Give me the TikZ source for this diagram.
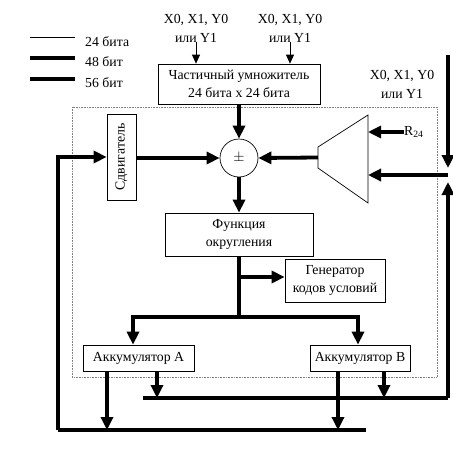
\documentclass[tikz,border=0pt]{standalone}
\usepackage{fontspec}
\setmainfont{Liberation Serif}
\usetikzlibrary{arrows.meta,calc}
\tikzset{
  x=1pt,y=-1pt,
  box/.style={draw,line width=0.7pt,inner sep=0pt,align=center,font=\fontsize{13.8}{17.5}\selectfont},
  lbl/.style={inner sep=0pt,align=center,font=\fontsize{13.8}{19}\selectfont},
  thin/.style={line width=0.7pt},
  med/.style={line width=3.1pt},
  thick/.style={line width=3.8pt},
  tarr/.style={thin,-{Triangle[length=9pt,width=8pt]}},
  barr/.style={-{Triangle[length=13pt,width=12pt]}},
}
\begin{document}
\begin{tikzpicture}
\useasboundingbox (0,0) rectangle (453,459);
% legend
\coordinate (l1a) at (30,37); \coordinate (l1b) at (75,37);
\coordinate (l2a) at (30,58); \coordinate (l2b) at (75,58);
\coordinate (l3a) at (30,79); \coordinate (l3b) at (75,79);
\draw[thin] (l1a) -- (l1b);
\draw[med] (l2a) -- (l2b);
\draw[thick] (l3a) -- (l3b);
\node[lbl,anchor=west] (t24) at (85,42) {24 бита};
\node[lbl,anchor=west] (t48) at (85,62) {48 бит};
\node[lbl,anchor=west] (t56) at (85,83) {56 бит};
% inputs
\node[lbl] (in1) at (196,28) {X0, X1, Y0\\или Y1};
\node[lbl] (in2) at (290,28) {X0, X1, Y0\\или Y1};
\node[lbl] (in3) at (402,84) {X0, X1, Y0\\или Y1};
% inner dotted frame
\draw[densely dotted,line width=0.6pt,gray] (72,107) rectangle (437,377);
% boxes
\node[box,minimum width=162pt,minimum height=40pt] (mult) at (239,84) {Частичный умножитель\\24 бита x 24 бита};
\node[box,minimum width=29pt,minimum height=86pt] (shift) at (121.5,157) {};
\node[lbl,rotate=90] (shiftt) at (shift.center) {Сдвигатель};
\node[draw,thin,circle,minimum size=38pt,inner sep=0pt,font=\fontsize{13.8}{17}\selectfont] (sum) at (239,158) {$\pm$};
\node[box,minimum width=148pt,minimum height=43pt] (func) at (239,234.5) {Функция\\округления};
\node[box,minimum width=100pt,minimum height=43pt] (gen) at (335,280.5) {Генератор\\кодов условий};
\node[box,minimum width=111pt,minimum height=26pt] (accA) at (138.5,358) {Аккумулятор А};
\node[box,minimum width=100pt,minimum height=26pt] (accB) at (360,358) {Аккумулятор В};
% trapezoid
\coordinate (tl1) at (318,147); \coordinate (tl2) at (318,168);
\coordinate (tr1) at (368,115); \coordinate (tr2) at (368,203);
\draw[thin] (tl1) -- (tr1) -- (tr2) -- (tl2) -- cycle;
\coordinate (trapL) at (318,157.5);
\coordinate (trapR1) at (368,132);
\coordinate (trapR2) at (368,175);
\node[lbl,anchor=west] (r24) at (404,132) {R\textsubscript{24}};
% input arrows
\draw[tarr] (in1.south) -- (in1.south |- mult.north);
\draw[tarr] (in2.south) -- (in2.south |- mult.north);
% right input
\coordinate (rtop) at (448,55);
\coordinate (rj) at (448,175);
\coordinate (rjt) at (448,168);
\coordinate (rjb) at (448,182);
\draw[thick,barr] (rtop) -- (rjt);
\draw[thick,barr] (rj) -- (trapR2);
\draw[med,barr] (r24.west) -- (trapR1);
% multiplier to sum
\draw[thick,barr] (mult.south) -- (sum.north);
\draw[thick,barr] (trapL) -- (sum.east);
\draw[thick,barr] (shift.east |- sum.center) -- (sum.west);
\draw[thick,barr] (sum.south) -- (func.north);
% left loop
\coordinate (lb) at (58,430);
\coordinate (lt) at (58,157);
\draw[thick,barr] (lb) -- (lt) -- (shift.west |- lt);
% func outputs
\coordinate (fb) at (239,317);
\coordinate (fg) at (239,277);
\coordinate (dA) at (133,317);
\coordinate (dB) at (358,317);
\draw[thick] (func.south) -- (fb);
\draw[thick,barr] (fg) -- (gen.west |- fg);
\draw[thick,barr] (fb) -- (dA) -- (dA |- accA.north);
\draw[thick,barr] (fb) -- (dB) -- (dB |- accB.north);
% buses
\coordinate (b1l) at (143,398);
\coordinate (b1r) at (448,398);
\coordinate (b2r) at (366,430);
\draw[thick] (b1l) -- (b1r);
\draw[thick,barr] (b1r) -- (rjb);
\draw[thick] (lb) -- (b2r);
% accumulator outputs
\coordinate (aA1) at (107,371); \coordinate (aA2) at (157,371);
\coordinate (aB1) at (338,371); \coordinate (aB2) at (384,371);
\draw[thick,barr] (aA1) -- (aA1 |- lb);
\draw[thick,barr] (aA2) -- (aA2 |- b1l);
\draw[thick,barr] (aB1) -- (aB1 |- lb);
\draw[thick,barr] (aB2) -- (aB2 |- b1l);
\end{tikzpicture}
\end{document}
